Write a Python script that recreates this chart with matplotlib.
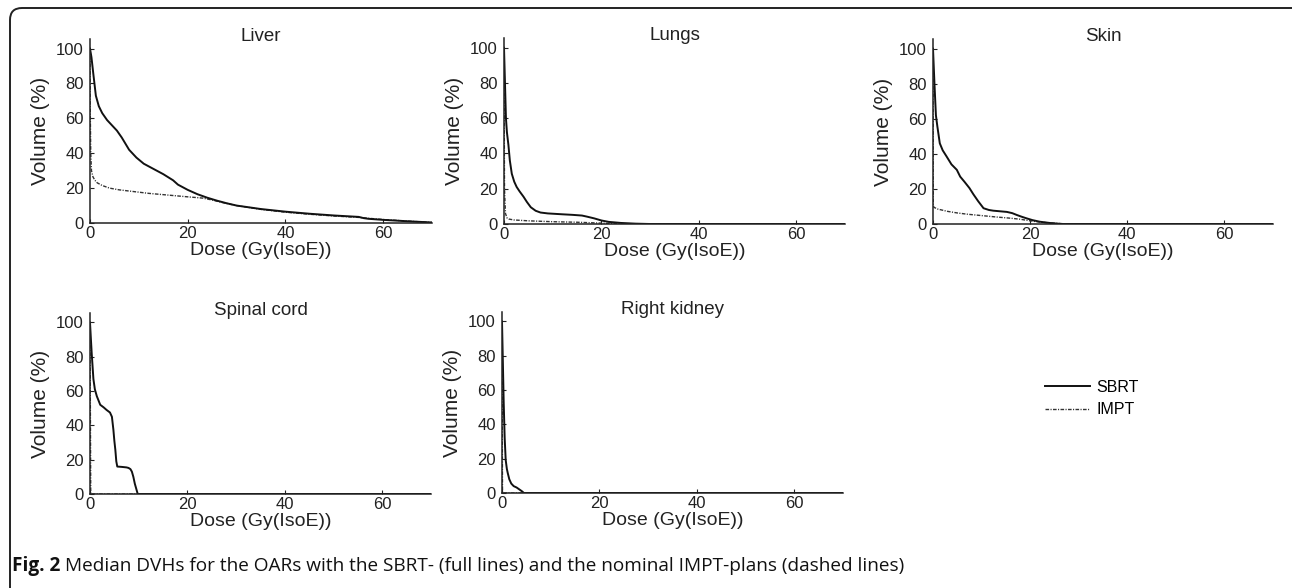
import matplotlib
matplotlib.use("Agg")
import matplotlib.pyplot as plt
from matplotlib.patches import FancyBboxPatch
from matplotlib.transforms import IdentityTransform

plt.rcParams['font.family'] = ['Liberation Sans', 'DejaVu Sans']

# Median DVH data: dose (Gy(IsoE)) and volume (%)
liver_sbrt_dose = [0, 0.3, 0.7, 1.2, 1.8, 2.5, 3.5, 4.5, 5.5, 6.5, 8, 9.5, 11, 13, 15, 17, 18, 20,
                   22, 24, 26, 28, 30, 35, 40, 45, 50, 55, 56, 57, 60, 65, 70]
liver_sbrt_vol = [100, 95, 85, 73, 67, 63, 59, 56, 53, 49, 42, 37.5, 34, 31, 28, 24.5, 22, 19,
                  16.5, 14.5, 12.8, 11.3, 10, 8, 6.5, 5.3, 4.3, 3.5, 2.8, 2.4, 1.8, 1, 0.3]
liver_impt_dose = [0, 0.05, 0.15, 0.3, 0.6, 1, 1.5, 2.5, 4, 6, 9, 12, 16, 20, 23, 25, 27, 30,
                   35, 40, 45, 50, 55, 60, 65, 70]
liver_impt_vol = [100, 65, 40, 30, 26.5, 24.5, 23, 21.5, 20, 19, 18, 17, 16, 15, 14.3, 13.2, 11.8, 10,
                  7.8, 6.2, 5, 4, 3.2, 2, 1.1, 0.3]

lungs_sbrt_dose = [0, 0.2, 0.4, 0.6, 0.9, 1.2, 1.6, 2.1, 2.6, 3.2, 4, 4.7, 5.5, 6.5, 7.5, 9, 12,
                   14, 16, 17, 18.5, 20, 21.5, 24, 27, 30, 70]
lungs_sbrt_vol = [100, 80, 60, 52, 45, 36, 28.5, 24, 21, 18.5, 15.5, 12.5, 9.5, 7.5, 6.5, 6, 5.5,
                  5.2, 4.8, 4.2, 3.2, 2, 1.2, 0.6, 0.2, 0, 0]
lungs_impt_dose = [0, 0.1, 0.3, 0.6, 1, 2, 5, 10, 15, 20, 25, 70]
lungs_impt_vol = [100, 20, 6, 3.5, 2.8, 2.3, 1.8, 1.3, 1, 0.5, 0, 0]

skin_sbrt_dose = [0, 0.3, 0.6, 0.9, 1.4, 2, 2.8, 3.8, 4.9, 5.6, 6.5, 7.5, 8.3, 9.3, 10.4, 11.5,
                  12.4, 14, 15.2, 16.3, 17.3, 18.3, 19.3, 20.5, 22, 24, 26.5, 70]
skin_sbrt_vol = [100, 80, 62, 55.6, 46, 42, 38.5, 34, 30.9, 27, 24, 20.5, 17, 13, 9, 8,
                 7.6, 7.2, 6.9, 6.2, 5.1, 4.1, 3.2, 2.2, 1.3, 0.6, 0, 0]
skin_impt_dose = [0, 0.05, 0.2, 1, 3, 5, 7, 10, 13, 16, 18, 20, 22, 24, 26, 28, 70]
skin_impt_vol = [100, 10.5, 9.5, 8.5, 7.2, 6.3, 5.6, 4.8, 4, 3.3, 2.7, 1.8, 1.1, 0.6, 0.3, 0, 0]

cord_sbrt_dose = [0, 0.15, 0.35, 0.7, 1.0, 1.4, 2.1, 2.8, 3.4, 4.1, 4.5, 4.8, 5.0, 5.2, 5.4, 5.6,
                  6.5, 7.5, 7.9, 8.3, 8.6, 8.9, 9.2, 9.5, 9.8, 70]
cord_sbrt_vol = [100, 92, 82, 67, 61, 57, 52, 50.5, 49, 47.5, 45, 37.5, 31, 25.8, 19, 16,
                 15.8, 15.5, 15.2, 14.5, 13, 10, 6, 3, 0, 0]
cord_impt_dose = [0, 0.15, 70]
cord_impt_vol = [100, 0, 0]

kidney_sbrt_dose = [0, 0.15, 0.35, 0.55, 0.76, 1.0, 1.2, 1.5, 1.9, 2.4, 3.0, 3.6, 4.1, 4.5, 70]
kidney_sbrt_vol = [100, 80, 52.5, 32, 19.2, 14, 11.4, 8, 5.5, 4, 3.2, 2, 1, 0, 0]
kidney_impt_dose = [0, 0.1, 70]
kidney_impt_vol = [100, 0, 0]

organs = ['Liver', 'Lungs', 'Skin', 'Spinal cord', 'Right kidney']
sbrt = [(liver_sbrt_dose, liver_sbrt_vol), (lungs_sbrt_dose, lungs_sbrt_vol),
        (skin_sbrt_dose, skin_sbrt_vol), (cord_sbrt_dose, cord_sbrt_vol),
        (kidney_sbrt_dose, kidney_sbrt_vol)]
impt = [(liver_impt_dose, liver_impt_vol), (lungs_impt_dose, lungs_impt_vol),
        (skin_impt_dose, skin_impt_vol), (cord_impt_dose, cord_impt_vol),
        (kidney_impt_dose, kidney_impt_vol)]

W, H = 1292, 588
fig = plt.figure(figsize=(W / 100, H / 100), dpi=100)

# axes boxes in pixels: left, bottom(from top), width, height
boxes = [(90, 223, 342, 184), (504, 224, 341, 186), (933, 224, 340, 185),
         (90, 494, 341, 181), (502, 493, 341, 181)]

dash = (0, (2.6, 1.0, 0.8, 1.0))
axes = []
for name, (sd, sv), (idose, ivol), (l, b, w, h) in zip(organs, sbrt, impt, boxes):
    ax = fig.add_axes([l / W, 1 - b / H, w / W, h / H])
    l2, = ax.plot(idose, ivol, color='#333333', lw=1.0, ls=dash, label='IMPT')
    l1, = ax.plot(sd, sv, color='#111111', lw=1.4, label='SBRT')
    ax.set_xlim(0, 70)
    ax.set_ylim(0, 105.5)
    ax.set_xticks([0, 20, 40, 60])
    ax.set_yticks([0, 20, 40, 60, 80, 100])
    for s in ['top', 'right']:
        ax.spines[s].set_visible(False)
    for s in ['left', 'bottom']:
        ax.spines[s].set_linewidth(1.1)
        ax.spines[s].set_color('#222222')
    ax.tick_params(direction='in', length=3, width=0.8, labelsize=12, colors='#222222')
    ax.tick_params(axis='x', pad=2)
    ax.tick_params(axis='y', pad=4.5)
    ax.set_xlabel('Dose (Gy(IsoE))', fontsize=14, labelpad=1, color='#222222')
    ax.set_ylabel('Volume (%)', fontsize=15, labelpad=4, color='#222222')
    ax.set_title(name, fontsize=13.5, y=0.99, pad=0, color='#222222')
    axes.append((ax, l1, l2))

h1, h2 = axes[0][1], axes[0][2]
fig.legend([h1, h2], ['SBRT', 'IMPT'], loc='center left', bbox_to_anchor=(1045 / W, 1 - 398.5 / H),
           frameon=False, fontsize=11.5, handlelength=2.8, handletextpad=0.4,
           borderaxespad=0, borderpad=0, labelspacing=0.45)

# rounded frame around the figure
frame = FancyBboxPatch((10, -20), 1300, H - 8 + 20, boxstyle='round,pad=0,rounding_size=12',
                       transform=IdentityTransform(), fill=False, lw=1.4, ec='#222222')
fig.patches.append(frame)

# caption
cy = 1 - 566 / H
t1 = fig.text(12 / W, cy, 'Fig. 2', fontsize=13.7, fontweight='bold', va='center',
              family=['Open Sans', 'DejaVu Sans'], color='#111111')
r = fig.canvas.get_renderer()
bb = t1.get_window_extent(r)
fig.text((bb.x1 + 5) / W, cy,
         'Median DVHs for the OARs with the SBRT- (full lines) and the nominal IMPT-plans (dashed lines)',
         fontsize=13.7, va='center', family=['Open Sans', 'DejaVu Sans'], color='#111111')

fig.savefig('out.png', dpi=100)
